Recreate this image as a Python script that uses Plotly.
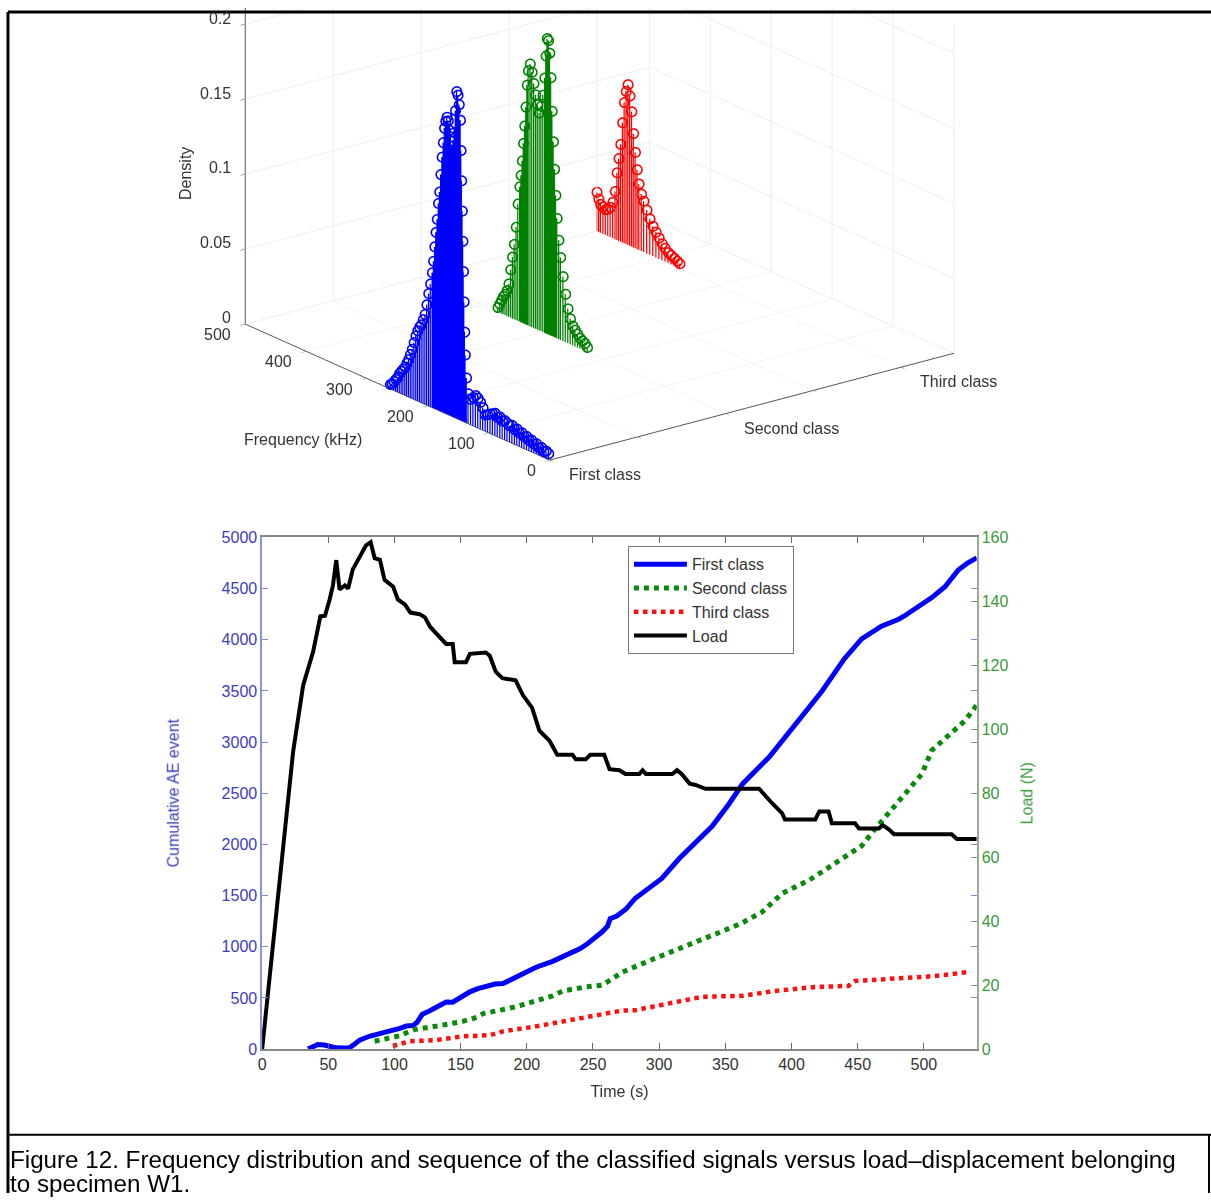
import plotly.graph_objects as go

FONT = "Liberation Sans, Arial, sans-serif"

# ---- frequency distributions (density of each class vs frequency, kHz) ----
class_names = ["First class", "Second class", "Third class"]
class_colors = ["#0000ff", "#008000", "#ff0000"]
freq_ticks = [0, 100, 200, 300, 400, 500]
density_ticks = [0, 0.05, 0.1, 0.15, 0.2]
density_ticktext = ["0", "0.05", "0.1", "0.15", "0.2"]

first_freq = [2, 6, 10, 14, 18, 22, 26, 30, 34, 38, 42, 46, 50, 54, 58, 62, 66, 70, 74, 78,
              82, 86, 90, 94, 98, 102, 106, 110, 114, 118, 122, 126, 130, 134, 137, 139, 140,
              141, 142, 143, 144, 145, 146, 147, 149, 151, 153, 155, 157, 159, 161, 163, 165,
              167, 169, 171, 173, 175, 177, 179, 181, 183, 185, 187, 189, 191, 193, 196, 199,
              202, 205, 208, 211, 214, 217, 220, 223, 226, 229, 232, 235, 238, 241, 244, 247,
              250, 253, 256, 259, 262]
first_density = [0.004, 0.005, 0.004, 0.006, 0.005, 0.007, 0.006, 0.008, 0.007, 0.009, 0.008,
                 0.010, 0.009, 0.011, 0.010, 0.012, 0.011, 0.012, 0.013, 0.012, 0.014, 0.013,
                 0.015, 0.014, 0.013, 0.012, 0.011, 0.015, 0.018, 0.020, 0.021, 0.019, 0.017,
                 0.020, 0.030, 0.045, 0.060, 0.080, 0.100, 0.120, 0.140, 0.160, 0.180, 0.200,
                 0.210, 0.216, 0.218, 0.205, 0.190, 0.184, 0.180, 0.186, 0.190, 0.196, 0.198,
                 0.195, 0.190, 0.180, 0.170, 0.158, 0.146, 0.138, 0.127, 0.118, 0.108, 0.098,
                 0.090, 0.082, 0.075, 0.067, 0.060, 0.056, 0.052, 0.050, 0.047, 0.043, 0.038,
                 0.033, 0.029, 0.025, 0.022, 0.019, 0.017, 0.015, 0.013, 0.010, 0.008, 0.006,
                 0.004, 0.003]

second_freq = [227, 231, 235, 239, 243, 247, 251, 255, 259, 263, 267, 271, 274, 277, 279, 281,
               283, 285, 287, 289, 291, 293, 295, 297, 300, 303, 306, 309, 312, 315, 318, 321,
               324, 326, 328, 330, 332, 334, 336, 338, 341, 344, 347, 350, 353, 356, 359, 362,
               365, 368, 371, 374]
second_density = [0.003, 0.005, 0.006, 0.007, 0.009, 0.011, 0.013, 0.017, 0.023, 0.032, 0.043,
                  0.055, 0.066, 0.080, 0.095, 0.112, 0.130, 0.150, 0.172, 0.188, 0.196, 0.197,
                  0.185, 0.170, 0.158, 0.150, 0.145, 0.150, 0.156, 0.163, 0.170, 0.175, 0.170,
                  0.160, 0.145, 0.132, 0.120, 0.108, 0.098, 0.090, 0.078, 0.062, 0.050, 0.041,
                  0.032, 0.022, 0.017, 0.014, 0.012, 0.009, 0.006, 0.003]

third_freq = [364, 368, 373, 378, 383, 388, 393, 398, 403, 408, 413, 418, 423, 427, 431, 434,
              437, 440, 443, 446, 449, 452, 455, 458, 461, 464, 467, 470, 474, 478, 482, 486,
              490, 494, 497, 500]
third_density = [0.003, 0.004, 0.005, 0.006, 0.007, 0.009, 0.011, 0.014, 0.017, 0.020, 0.024,
                 0.029, 0.034, 0.038, 0.044, 0.053, 0.064, 0.076, 0.090, 0.100, 0.107, 0.102,
                 0.094, 0.080, 0.065, 0.055, 0.045, 0.032, 0.024, 0.020, 0.018, 0.017, 0.018,
                 0.019, 0.022, 0.026]

# ---- cumulative AE events and load vs time ----
first_t = [34.7, 38, 42, 47, 52, 56, 62, 66, 70, 74, 81, 91, 97, 104, 109, 114, 117, 121, 126,
           131, 135, 139, 144, 150, 157, 163, 169, 176, 182, 188, 197, 207, 219.5, 232, 240,
           245, 251, 257, 261, 263, 268, 275, 282, 292, 302, 315, 327, 340, 353, 363, 383, 403,
           423, 440, 453, 468, 478, 481, 485, 493, 506, 516, 526, 533, 540]
first_events = [0, 20, 45, 40, 25, 12, 10, 12, 50, 90, 125, 154, 175, 202, 225, 231, 260, 340,
                370, 410, 440, 460, 458, 510, 559, 590, 617, 636, 640, 680, 732, 800, 857, 925,
                980, 1021, 1080, 1146, 1200, 1275, 1300, 1370, 1474, 1570, 1667, 1859, 2014,
                2177, 2400, 2591, 2852, 3170, 3497, 3815, 4008, 4133, 4180, 4200, 4230, 4297,
                4412, 4518, 4682, 4750, 4800]

second_t = [85, 96.5, 104, 111.6, 115, 131, 151.6, 162, 167, 180, 194.6, 219.5, 227, 244.6,
            257, 265, 272, 295, 320, 345, 355, 362.7, 377.8, 393, 413, 433, 453, 463, 476,
            488.7, 498.5, 506, 518.8, 531, 540]
second_events = [77, 106, 130, 173, 190, 222, 270, 310, 347, 380, 424, 520, 568, 607, 625, 690,
                 751, 877, 1002, 1137, 1190, 1233, 1339, 1522, 1648, 1811, 1985, 2148, 2341,
                 2534, 2688, 2919, 3073, 3208, 3362]

third_t = [98.8, 105, 111.6, 131, 151.6, 172, 182, 207, 232, 257, 272, 282, 307.7, 332.6,
           362.7, 387.6, 418, 443, 448, 470.6, 483.4, 508, 532.4]
third_events = [30, 50, 77, 87, 125, 135, 173, 222, 280, 340, 376, 380, 443, 511, 520, 568,
                607, 617, 665, 684, 703, 713, 751]

load_t = [0, 8, 16, 23.4, 31, 38.5, 44, 47.5, 51, 53.5, 56, 58.5, 62.5, 65, 68.5, 74, 78.5, 82,
          85, 89, 92.5, 99, 102.5, 108, 112, 119, 123, 127, 134, 139, 144, 145.5, 148, 154,
          157, 169, 172, 176.5, 181.5, 191.5, 197, 204, 209.5, 217, 223, 234.5, 237, 244.5,
          248, 258.5, 262.5, 270, 274.5, 285, 287.5, 290, 310, 313.5, 317, 323, 327.5, 335,
          375.5, 379.5, 385.5, 393, 395, 418, 421, 428, 430.5, 448, 451, 466, 469, 473.5,
          477.5, 521, 525, 540]
load_n = [0, 32, 63, 93, 113.8, 124.2, 135.3, 135.5, 140.6, 145, 152.9, 143.7, 145, 144, 150,
          154, 157.5, 158.5, 153.5, 153, 146.7, 144.6, 140.6, 139, 136.5, 136, 135, 132, 129,
          126.7, 126.7, 121, 121, 121, 123.6, 124, 123, 118, 116, 115.3, 110.7, 106.7, 99.6,
          96.5, 92, 92, 90.6, 90.6, 92, 92, 87.5, 87.2, 86, 86, 87.2, 86, 86, 87.2, 86, 83,
          82.6, 81.4, 81.4, 79.5, 76.8, 73.7, 71.8, 71.8, 74.3, 74.3, 70.6, 70.6, 69, 69, 70,
          68.7, 67.2, 67.2, 65.7, 65.7]

W, H = 1211, 1202
fig = go.Figure()

# ---- 3D stem plot ----
distributions = [(first_freq, first_density), (second_freq, second_density),
                 (third_freq, third_density)]
for k, (freqs, dens) in enumerate(distributions):
    cls = k + 1
    xs, ys, zs = [], [], []
    for f, d in zip(freqs, dens):
        xs += [cls, cls, None]
        ys += [f, f, None]
        zs += [0, d, None]
    fig.add_trace(go.Scatter3d(x=xs, y=ys, z=zs, mode="lines",
                               line=dict(color=class_colors[k], width=2.5),
                               showlegend=False, hoverinfo="skip", scene="scene"))
    fig.add_trace(go.Scatter3d(x=[cls] * len(freqs), y=freqs, z=dens, mode="markers",
                               marker=dict(symbol="circle-open", size=6,
                                           color=class_colors[k],
                                           line=dict(width=1, color=class_colors[k])),
                               showlegend=False, scene="scene"))

axis3d = dict(showbackground=False, gridcolor="#eeeeee", showline=True, linecolor="#555555",
              linewidth=2, ticks="outside", tickcolor="#555555", ticklen=6,
              zeroline=False, showspikes=False, showticklabels=False, title=dict(text=""))

# tick labels of the 3D panel, anchored at the tick positions on each axis edge
label_font = dict(family=FONT, size=16, color="#333333")
scene_labels = []
for k, name in enumerate(class_names):
    scene_labels.append(dict(x=k + 1, y=0, z=0, text=name, showarrow=False,
                             xanchor="left", yanchor="middle", xshift=17, yshift=-15,
                             font=label_font))
for f in freq_ticks:
    scene_labels.append(dict(x=1, y=f, z=0, text=str(f), showarrow=False,
                             xanchor="right", yanchor="middle", xshift=-12, yshift=-11,
                             font=label_font))
for v, txt in zip(density_ticks, density_ticktext):
    scene_labels.append(dict(x=1, y=500, z=v, text=txt, showarrow=False,
                             xanchor="right", yanchor="middle", xshift=-12,
                             yshift=6, font=label_font))

# view direction (unit vector from the look-at point toward the eye)
view_dir = (-0.573, -0.745, 0.344)
look_at = (0.0246, -0.019, -0.373)
distance = 2.0

fig.update_layout(scene=dict(
    domain=dict(x=[0.0, 1.0], y=[0.57, 1.0]),
    xaxis=dict(axis3d, range=[1, 3.3], tickvals=[1, 1.5, 2, 2.5, 3]),
    yaxis=dict(axis3d, range=[0, 500], tickvals=freq_ticks),
    zaxis=dict(axis3d, range=[0, 0.22], tickvals=density_ticks),
    aspectmode="manual", aspectratio=dict(x=2.0, y=1.958, z=1.378),
    camera=dict(projection=dict(type="orthographic"),
                eye=dict(x=look_at[0] + distance * view_dir[0],
                         y=look_at[1] + distance * view_dir[1],
                         z=look_at[2] + distance * view_dir[2]),
                up=dict(x=0, y=0, z=1),
                center=dict(x=look_at[0], y=look_at[1], z=look_at[2])),
    annotations=scene_labels,
))

# axis titles of the 3D panel
fig.add_annotation(xref="paper", yref="paper", x=300 / W, y=1 - 438 / H, showarrow=False,
                   xanchor="center", yanchor="middle",
                   text="Frequency (kHz)", font=label_font)
fig.add_annotation(xref="paper", yref="paper", x=182 / W, y=1 - 168 / H, showarrow=False,
                   xanchor="center", yanchor="middle", textangle=-90, text="Density",
                   font=label_font)

# ---- cumulative events and load ----
fig.add_trace(go.Scatter(x=first_t, y=first_events, name="First class", mode="lines",
                         line=dict(color="#0000ff", width=5)))
fig.add_trace(go.Scatter(x=second_t, y=second_events, name="Second class", mode="lines",
                         line=dict(color="#0a8a0a", width=5, dash="dot")))
fig.add_trace(go.Scatter(x=third_t, y=third_events, name="Third class", mode="lines",
                         line=dict(color="#ff1010", width=4.5, dash="dot")))
fig.add_trace(go.Scatter(x=load_t, y=load_n, name="Load", mode="lines", yaxis="y2",
                         line=dict(color="#000000", width=4)))

x0, x1 = 259 / W, 976 / W
yb, yt = 1 - 1056 / H, 1 - 537 / H

fig.update_layout(
    width=W, height=H, margin=dict(l=0, r=0, t=0, b=0),
    paper_bgcolor="white", plot_bgcolor="white",
    font=dict(family=FONT, size=16, color="#333333"),
    xaxis=dict(domain=[x0, x1], range=[0, 540], tickvals=list(range(0, 501, 50)),
               showline=True, linecolor="#888888", linewidth=1.5, mirror="ticks",
               ticks="inside", ticklen=6, tickcolor="#666666", showgrid=False, zeroline=False,
               tickfont=dict(size=16, color="#333333"),
               title=dict(text="Time (s)", font=dict(size=16, color="#333333"), standoff=14)),
    yaxis=dict(domain=[yb, yt], range=[0, 5000], tickvals=list(range(0, 5001, 500)),
               showline=True, linecolor="#9090e0", linewidth=1.5, mirror="ticks",
               ticks="inside", ticklen=6, tickcolor="#8888cc", showgrid=False, zeroline=False,
               tickfont=dict(size=16, color="#3c3cc0"),
               title=dict(text="Cumulative AE event", font=dict(size=16, color="#3c3cc0"),
                          standoff=38)),
    yaxis2=dict(overlaying="y", side="right", range=[0, 160],
                tickvals=list(range(0, 161, 20)), anchor="x",
                showline=True, linecolor="#99aa99", linewidth=1.5,
                ticks="inside", ticklen=6, tickcolor="#779977", showgrid=False, zeroline=False,
                tickfont=dict(size=16, color="#3a9a3a"),
                title=dict(text="Load (N)", font=dict(size=16, color="#3a9a3a"), standoff=14)),
    legend=dict(x=626 / W, y=1 - 546 / H, xanchor="left", yanchor="top",
                bgcolor="white", bordercolor="#777777", borderwidth=1,
                font=dict(size=16, color="#333333"), tracegroupgap=0, itemwidth=53),
)

# ---- caption and frame ----
caption_lines = ["Figure 12. Frequency distribution and sequence of the classified signals "
                 "versus load\u2013displacement belonging",
                 "to specimen W1."]
for i, line in enumerate(caption_lines):
    fig.add_annotation(xref="paper", yref="paper", x=4 / W, y=1 - (1168 + 24 * i) / H,
                       xanchor="left", yanchor="middle", align="left", showarrow=False,
                       text=line, font=dict(family=FONT, size=24.2, color="#000000"))

frame = [
    (4 / W, 1 - 4 / H, 1, 1 - 4 / H, 3),
    (4 / W, 1 - 4 / H, 4 / W, 0, 3),
    (4 / W, 1 - 1143 / H, 1, 1 - 1143 / H, 2),
    (1209 / W, 1 - 1143 / H, 1209 / W, 0, 2),
]
for xa, ya, xb, yb_, w in frame:
    fig.add_shape(type="line", xref="paper", yref="paper", x0=xa, y0=ya, x1=xb, y1=yb_,
                  line=dict(color="black", width=w))

fig.write_html("out.html")
